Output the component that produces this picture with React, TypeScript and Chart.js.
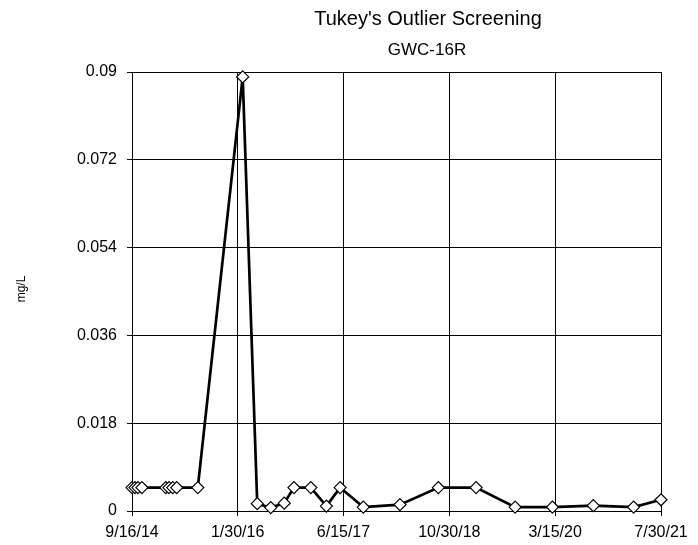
import React, { useEffect, useRef } from "react";
import { Chart, registerables } from "chart.js";

Chart.register(...registerables);

const TITLE = "Tukey's Outlier Screening";
const SUBTITLE = "GWC-16R";
const Y_TITLE = "mg/L";

const sampleDates = [
  "2014-09-16", "2014-09-30", "2014-10-14", "2014-11-02",
  "2015-02-23", "2015-03-10", "2015-03-28", "2015-04-16",
  "2015-07-25", "2016-02-23", "2016-05-02", "2016-07-05",
  "2016-09-07", "2016-10-23", "2017-01-11", "2017-03-26",
  "2017-05-30", "2017-09-17", "2018-03-10", "2018-09-08",
  "2019-03-06", "2019-09-07", "2020-03-02", "2020-09-12",
  "2021-03-22", "2021-07-30",
];
const sampleValues = [
  0.0048, 0.0048, 0.0048, 0.0048,
  0.0048, 0.0048, 0.0048, 0.0048,
  0.0048, 0.089, 0.0015, 0.0007,
  0.0016, 0.0048, 0.0048, 0.001,
  0.0048, 0.0008, 0.0013, 0.0048,
  0.0048, 0.0008, 0.0008, 0.0011,
  0.0008, 0.0023,
];

const xTickDates = ["2014-09-16", "2016-01-30", "2017-06-15", "2018-10-30", "2020-03-15", "2021-07-30"];
const xTickLabels = ["9/16/14", "1/30/16", "6/15/17", "10/30/18", "3/15/20", "7/30/21"];
const yTickValues = [0, 0.018, 0.036, 0.054, 0.072, 0.09];
const yTickLabels = ["0", "0.018", "0.036", "0.054", "0.072", "0.09"];

const DAY = 86400000;
const origin = Date.parse(xTickDates[0] + "T00:00:00Z");
const toDay = (s: string) => Math.round((Date.parse(s + "T00:00:00Z") - origin) / DAY);

export default function App() {
  const ref = useRef<HTMLCanvasElement | null>(null);
  useEffect(() => {
    if (!ref.current) return;
    const xTicks = xTickDates.map(toDay);
    const points = sampleDates.map((d, i) => ({ x: toDay(d), y: sampleValues[i] }));
    const font = "'Liberation Sans', Arial, sans-serif";

    const textPlugin = {
      id: "texts",
      afterDraw(chart: any) {
        const ctx = chart.ctx;
        ctx.save();
        ctx.fillStyle = "#000";
        ctx.textAlign = "center";
        ctx.textBaseline = "alphabetic";
        ctx.font = `20px ${font}`;
        ctx.fillText(TITLE, 428, 25);
        ctx.font = `17px ${font}`;
        ctx.fillText(SUBTITLE, 427, 55);
        ctx.translate(25, 289);
        ctx.rotate(-Math.PI / 2);
        ctx.font = `12px ${font}`;
        ctx.fillText(Y_TITLE, 0, 0);
        ctx.restore();
      },
    };

    const chart = new Chart(ref.current, {
      type: "line",
      data: {
        datasets: [
          {
            data: points,
            borderColor: "#000",
            borderWidth: 2.7,
            pointStyle: "rectRot",
            pointRadius: 6,
            pointBackgroundColor: "#fff",
            pointBorderColor: "#000",
            pointBorderWidth: 1.2,
            tension: 0,
            clip: false as any,
          },
        ],
      },
      options: {
        animation: false,
        responsive: true,
        maintainAspectRatio: false,
        layout: { padding: { top: 72, right: 37, left: 0, bottom: 0 } },
        plugins: { legend: { display: false }, tooltip: { enabled: false } },
        scales: {
          x: {
            type: "linear",
            min: xTicks[0],
            max: xTicks[xTicks.length - 1],
            afterBuildTicks: (scale: any) => {
              scale.ticks = xTicks.map((v) => ({ value: v }));
            },
            afterFit: (scale: any) => {
              scale.height = 34;
            },
            ticks: {
              autoSkip: false,
              maxRotation: 0,
              padding: 7,
              color: "#000",
              font: { family: font, size: 16 },
              callback: (v: any) => {
                const i = xTicks.indexOf(v);
                return i >= 0 ? xTickLabels[i] : "";
              },
            },
            grid: { color: "#000", lineWidth: 1, tickLength: 5 },
            border: { color: "#000", width: 1 },
          },
          y: {
            type: "linear",
            min: 0,
            max: 0.09,
            afterBuildTicks: (scale: any) => {
              scale.ticks = yTickValues.map((v) => ({ value: v }));
            },
            afterFit: (scale: any) => {
              scale.width = 132;
            },
            ticks: {
              autoSkip: false,
              padding: 10,
              color: "#000",
              font: { family: font, size: 16 },
              callback: (v: any) => {
                const i = yTickValues.findIndex((t) => Math.abs(t - v) < 1e-9);
                return i >= 0 ? yTickLabels[i] : "";
              },
            },
            grid: { color: "#000", lineWidth: 1, tickLength: 5 },
            border: { color: "#000", width: 1 },
          },
        },
      },
      plugins: [textPlugin],
    });
    return () => chart.destroy();
  }, []);

  return (
    <div style={{ position: "fixed", left: 0, top: 0, width: 698, height: 545, background: "#fff" }}>
      <canvas ref={ref} />
    </div>
  );
}
